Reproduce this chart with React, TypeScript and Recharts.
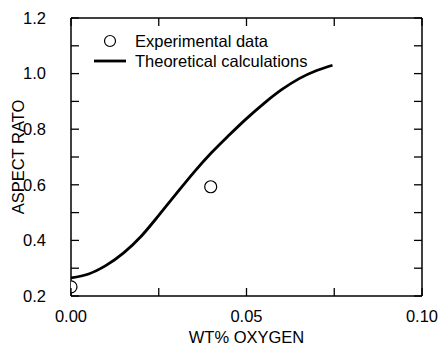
import { ComposedChart, Line, Scatter, XAxis, YAxis, Legend } from 'recharts';

// theoretical curve (wt% oxygen, aspect ratio)
const curveX = [0, 0.005, 0.01, 0.015, 0.02, 0.025, 0.03, 0.035, 0.04, 0.045, 0.05, 0.055, 0.06, 0.065, 0.07, 0.0745];
const curveY = [0.265, 0.279, 0.31, 0.355, 0.415, 0.49, 0.568, 0.645, 0.715, 0.778, 0.838, 0.893, 0.942, 0.982, 1.011, 1.03];

// experimental points
const expX = [0, 0.0398];
const expY = [0.233, 0.593];

const xTicks = [0, 0.025, 0.05, 0.075, 0.1];
const xLabelled = [0, 0.05, 0.1];
const yTicks = [0.2, 0.3, 0.4, 0.5, 0.6, 0.7, 0.8, 0.9, 1.0, 1.1, 1.2];
const yLabelled = [0.2, 0.4, 0.6, 0.8, 1.0, 1.2];

const curve = curveX.map((x, i) => ({ x, y: curveY[i] }));
const points = expX.map((x, i) => ({ x, y: expY[i] }));

const FONT = '"Liberation Sans", Arial, sans-serif';
const FS = 16.5;
const TICK = 8;
const axisLine = { stroke: '#000', strokeWidth: 1.5 };

const near = (v: number, list: number[]) => list.some((t) => Math.abs(t - v) < 1e-9);

// inward ticks, drawn by hand since recharts only draws them outward
const BX_MARGIN = 14;
const LY_MARGIN = 25;

function BottomTick({ x, y, payload }: any) {
  const v = payload.value;
  const ay = y - BX_MARGIN;
  return (
    <g>
      <line x1={x} x2={x} y1={ay} y2={ay - TICK} stroke="#000" strokeWidth={1.3} />
      {near(v, xLabelled) && (
        <text x={x} y={y} dy="0.71em" textAnchor="middle" fill="#000" fontSize={FS} fontFamily={FONT}>
          {v.toFixed(2)}
        </text>
      )}
    </g>
  );
}

function LeftTick({ x, y, payload }: any) {
  const v = payload.value;
  const ax = x + LY_MARGIN;
  return (
    <g>
      <line x1={ax} x2={ax + TICK} y1={y} y2={y} stroke="#000" strokeWidth={1.3} />
      {near(v, yLabelled) && (
        <text x={x} y={y} dy="0.355em" textAnchor="end" fill="#000" fontSize={FS} fontFamily={FONT}>
          {v.toFixed(1)}
        </text>
      )}
    </g>
  );
}

function TopTick({ x, y }: any) {
  return <line x1={x} x2={x} y1={y} y2={y + TICK} stroke="#000" strokeWidth={1.3} />;
}

function RightTick({ x, y }: any) {
  return <line x1={x} x2={x - TICK} y1={y} y2={y} stroke="#000" strokeWidth={1.3} />;
}

function LegendBox() {
  return (
    <div style={{ fontFamily: FONT, fontSize: FS, color: '#000', lineHeight: '20px' }}>
      <div style={{ display: 'flex', alignItems: 'center', height: 20 }}>
        <svg width={32} height={20} style={{ marginRight: 9 }}>
          <circle cx={16} cy={10} r={5.5} fill="#fff" stroke="#000" strokeWidth={1.2} />
        </svg>
        <span>Experimental data</span>
      </div>
      <div style={{ display: 'flex', alignItems: 'center', height: 20 }}>
        <svg width={32} height={20} style={{ marginRight: 9 }}>
          <line x1={0} y1={10} x2={32} y2={10} stroke="#000" strokeWidth={2.8} />
        </svg>
        <span>Theoretical calculations</span>
      </div>
    </div>
  );
}

export default function App() {
  return (
    <div style={{ position: 'absolute', left: 0, top: 0, background: '#fff' }}>
      <ComposedChart width={438} height={347} margin={{ top: 0, right: 0, bottom: 0, left: 0 }}>
        <XAxis
          xAxisId={0}
          type="number"
          dataKey="x"
          domain={[0, 0.1]}
          ticks={xTicks}
          allowDataOverflow
          height={51}
          tickSize={0}
          tickMargin={BX_MARGIN}
          axisLine={axisLine}
          tickLine={false}
          tick={<BottomTick />}
          interval={0}
          label={{ value: 'WT% OXYGEN', position: 'insideBottom', offset: 4, style: { fill: '#000', fontSize: FS, fontFamily: FONT } }}
        />
        <XAxis
          xAxisId="top"
          orientation="top"
          type="number"
          dataKey="x"
          domain={[0, 0.1]}
          ticks={xTicks}
          allowDataOverflow
          height={18}
          tickSize={0}
          tickMargin={0}
          axisLine={axisLine}
          tickLine={false}
          tick={<TopTick />}
          interval={0}
        />
        <YAxis
          yAxisId={0}
          type="number"
          domain={[0.2, 1.2]}
          ticks={yTicks}
          allowDataOverflow
          width={71}
          tickSize={0}
          tickMargin={LY_MARGIN}
          axisLine={axisLine}
          tickLine={false}
          tick={<LeftTick />}
          interval={0}
          label={{ value: 'ASPECT RATO', angle: -90, position: 'insideLeft', offset: 18, style: { textAnchor: 'middle', fill: '#000', fontSize: FS, fontFamily: FONT } }}
        />
        <YAxis
          yAxisId="right"
          orientation="right"
          type="number"
          domain={[0.2, 1.2]}
          ticks={yTicks}
          allowDataOverflow
          width={16}
          tickSize={0}
          tickMargin={0}
          axisLine={axisLine}
          tickLine={false}
          tick={<RightTick />}
          interval={0}
        />
        <Legend
          layout="vertical"
          align="center"
          verticalAlign="middle"
          content={() => <LegendBox />}
          wrapperStyle={{ top: 31, left: 94, width: 300 }}
        />
        {/* invisible series so the top/right frame axes get a domain */}
        <Line
          xAxisId="top"
          yAxisId="right"
          data={curve}
          dataKey="y"
          stroke="none"
          dot={false}
          activeDot={false}
          legendType="none"
          isAnimationActive={false}
        />
        <Line
          data={curve}
          dataKey="y"
          type="monotone"
          stroke="#000"
          strokeWidth={2.8}
          dot={false}
          activeDot={false}
          isAnimationActive={false}
        />
        <Scatter
          data={points}
          dataKey="y"
          shape={(p: any) => <circle cx={p.cx} cy={p.cy} r={6} fill="#fff" stroke="#000" strokeWidth={1.2} />}
          isAnimationActive={false}
        />
      </ComposedChart>
    </div>
  );
}
